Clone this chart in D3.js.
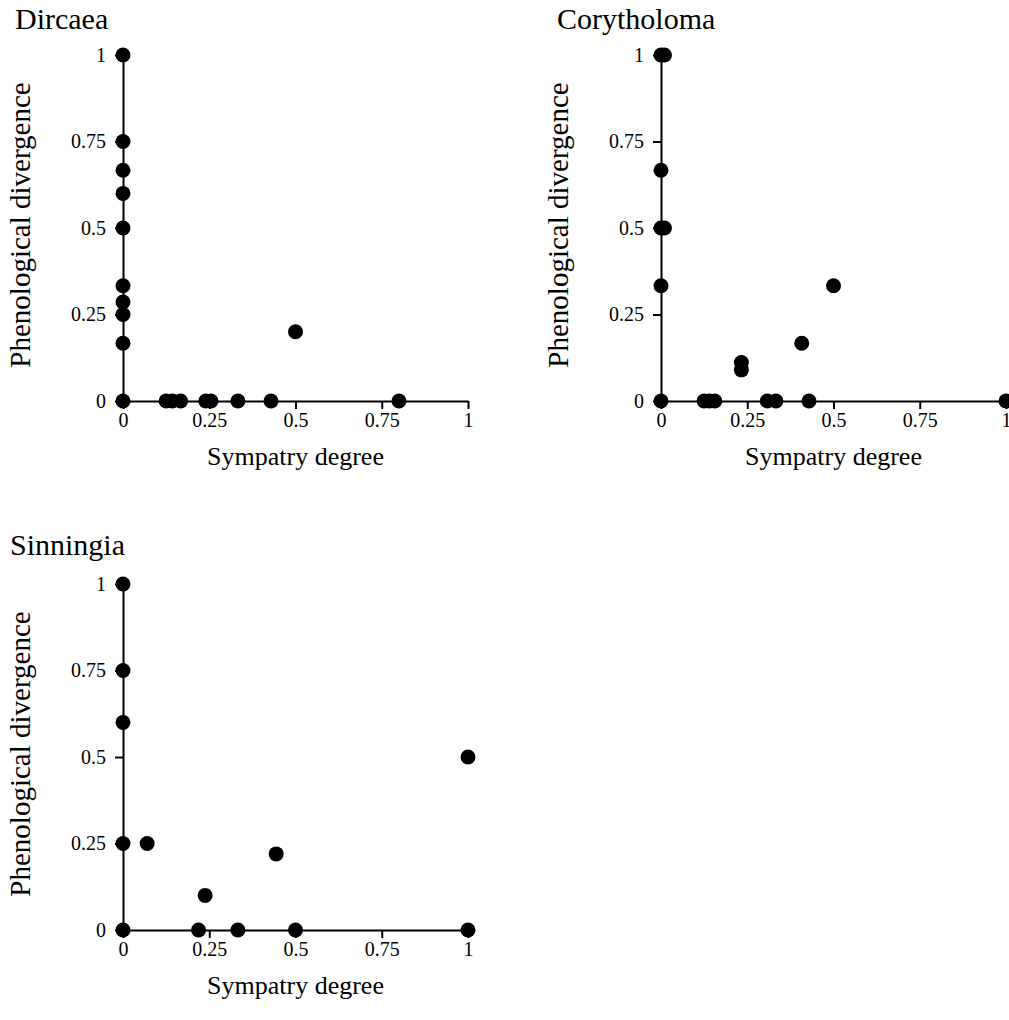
<!DOCTYPE html>
<html>
<head>
<meta charset="utf-8">
<script src="https://cdn.jsdelivr.net/npm/d3@7"></script>
<style>
  body { margin: 0; background: #fff; }
  svg text { font-family: 'Liberation Serif', 'Times New Roman', serif; }
</style>
</head>
<body>
<div id="chart"></div>
<script>
const ticks = [0, 0.25, 0.5, 0.75, 1];

// Dircaea
const dircaeaX = [0, 0, 0, 0, 0, 0, 0, 0, 0, 0, 0.125, 0.143, 0.167, 0.24, 0.255, 0.333, 0.429, 0.5, 0.8];
const dircaeaY = [1, 0.75, 0.667, 0.6, 0.5, 0.333, 0.286, 0.25, 0.167, 0, 0, 0, 0, 0, 0, 0, 0, 0.2, 0];

// Corytholoma
const corytholomaX = [0, 0.01, 0, 0, 0.01, 0, 0, 0.125, 0.14, 0.156, 0.233, 0.233, 0.308, 0.333, 0.408, 0.429, 0.5, 1];
const corytholomaY = [1, 1, 0.667, 0.5, 0.5, 0.333, 0, 0, 0, 0, 0.111, 0.09, 0, 0, 0.167, 0, 0.333, 0];

// Sinningia
const sinningiaX = [0, 0, 0, 0, 0, 0.07, 0.219, 0.238, 0.333, 0.444, 0.5, 1, 1];
const sinningiaY = [1, 0.75, 0.6, 0.25, 0, 0.25, 0, 0.1, 0, 0.22, 0, 0.5, 0];

const panels = [
  { title: 'Dircaea', xs: dircaeaX, ys: dircaeaY, left: 123, top: 55, titleX: 15, titleY: 29 },
  { title: 'Corytholoma', xs: corytholomaX, ys: corytholomaY, left: 661, top: 55, titleX: 557, titleY: 29 },
  { title: 'Sinningia', xs: sinningiaX, ys: sinningiaY, left: 123, top: 584, titleX: 10, titleY: 555 }
];

const width = 1009;
const height = 1020;
const plotW = 345;
const plotH = 346;

const svg = d3.select('#chart')
  .append('svg')
  .attr('width', width)
  .attr('height', height);

panels.forEach((p) => {
  const x = d3.scaleLinear().domain([0, 1]).range([p.left, p.left + plotW]);
  const y = d3.scaleLinear().domain([0, 1]).range([p.top + plotH, p.top]);

  // panel title
  svg.append('text')
    .attr('x', p.titleX)
    .attr('y', p.titleY)
    .style('font-size', '30px')
    .text(p.title);

  const gx = svg.append('g')
    .attr('transform', `translate(0,${p.top + plotH})`)
    .call(d3.axisBottom(x).tickValues(ticks).tickFormat((d) => String(d)).tickSize(8).tickSizeOuter(0).tickPadding(4));

  const gy = svg.append('g')
    .attr('transform', `translate(${p.left},0)`)
    .call(d3.axisLeft(y).tickValues(ticks).tickFormat((d) => String(d)).tickSize(8).tickSizeOuter(0).tickPadding(9));

  [gx, gy].forEach((g) => {
    g.select('.domain').attr('stroke', '#000').attr('stroke-width', 2);
    g.selectAll('.tick line').attr('stroke', '#000').attr('stroke-width', 2);
    g.selectAll('.tick text')
      .attr('fill', '#000')
      .style('font-size', '20px')
      .style('font-family', "'Liberation Serif', serif");
  });

  svg.append('text')
    .attr('x', p.left + plotW / 2)
    .attr('y', p.top + plotH + 64)
    .attr('text-anchor', 'middle')
    .style('font-size', '26px')
    .text('Sympatry degree');

  svg.append('text')
    .attr('transform', `translate(${p.left - 93},${p.top + plotH / 2 - 3}) rotate(-90)`)
    .attr('text-anchor', 'middle')
    .style('font-size', '29px')
    .text('Phenological divergence');

  // dots on top of the axes
  svg.append('g')
    .selectAll('circle')
    .data(p.xs.map((v, i) => [v, p.ys[i]]))
    .enter()
    .append('circle')
    .attr('cx', (d) => x(d[0]))
    .attr('cy', (d) => y(d[1]))
    .attr('r', 7.5)
    .attr('fill', '#000');
});
</script>
</body>
</html>
